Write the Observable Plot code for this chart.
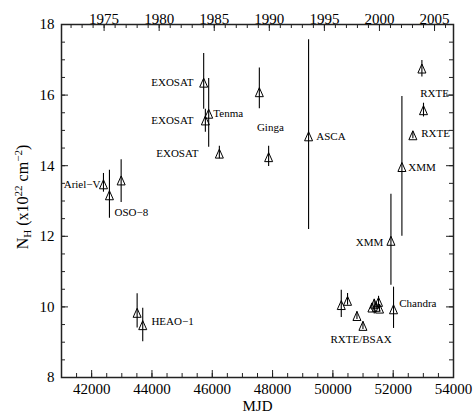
<!DOCTYPE html>
<html><head><meta charset="utf-8">
<script src="https://cdn.jsdelivr.net/npm/d3@7"></script>
<script src="https://cdn.jsdelivr.net/npm/@observablehq/plot@0.6"></script>
<style>body{margin:0;background:#fff} svg{display:block}</style>
</head><body><div id="chart"></div>
<script>
// Observations: MJD, N_H and error range (x10^22 cm^-2)
const mjd    = [42392, 42590, 42978, 43508, 43694, 45715, 45771, 45881, 46235, 47561, 47869, 49194,
                50278, 50486, 50798, 50997, 51295, 51371, 51437, 51514, 51547, 51925, 52011, 52289, 52653, 52952, 53005];
const nh     = [13.47, 13.16, 13.58, 9.83, 9.48, 16.35, 15.28, 15.47, 14.34, 16.08, 14.24, 14.83,
                10.05, 10.17, 9.74, 9.46, 9.98, 10.09, 10.00, 10.14, 9.95, 11.87, 9.93, 13.96, 14.86, 16.75, 15.57];
const nhLow  = [13.25, 12.51, 12.96, 9.40, 9.01, 15.60, 14.95, 14.52, 14.20, 15.61, 13.98, 12.19,
                9.70, 10.05, 9.64, 9.36, 9.90, 9.80, 9.92, 10.02, 9.87, 10.61, 9.39, 12.00, 14.76, 16.51, 15.38];
const nhHigh = [13.78, 13.87, 14.17, 10.37, 9.96, 17.18, 15.60, 16.47, 14.55, 16.77, 14.55, 17.57,
                10.47, 10.38, 9.86, 9.58, 10.10, 10.22, 10.10, 10.30, 10.05, 13.19, 10.56, 15.96, 14.96, 16.98, 15.77];

// Mission labels
const labelText   = ["Ariel−V", "OSO−8", "HEAO−1", "EXOSAT", "EXOSAT", "EXOSAT", "Tenma", "Ginga", "ASCA",
                     "XMM", "RXTE", "RXTE", "XMM", "Chandra", "RXTE/BSAX"];
const labelMjd    = [42292, 42756, 43982, 45374, 45374, 45540, 46036, 47925, 49450,
                     52500, 52896, 52929, 51669, 52200, 50934];
const labelNh     = [13.47, 12.68, 9.59, 16.36, 15.28, 14.35, 15.48, 15.08, 14.83,
                     13.96, 16.05, 14.92, 11.83, 10.10, 9.08];
const labelAnchor = ["end", "start", "start", "end", "end", "end", "start", "middle", "start",
                     "start", "start", "start", "end", "start", "middle"];

// Axis ticks
const xMajor = [42000, 44000, 46000, 48000, 50000, 52000, 54000];
const xMinor = d3.range(41000, 54001, 500);
const yMajor = [8, 10, 12, 14, 16, 18];
const yMinor = d3.range(8, 18.01, 0.5);
const topYearsMajor = [1975, 1980, 1985, 1990, 1995, 2000, 2005];
const topYearsAll = d3.range(1972, 2007);

const mjdOfYear = y => (Date.UTC(y, 0, 1) - Date.UTC(1858, 10, 17)) / 864e5;

const W = 474, H = 419, mL = 61, mR = 21, mT = 24, mB = 42;
const iw = W - mL - mR, ih = H - mT - mB;

const idx = d3.range(mjd.length);
const lidx = d3.range(labelText.length);

const tri = {draw(ctx) { ctx.moveTo(0, -4.6); ctx.lineTo(4, 4.4); ctx.lineTo(-4, 4.4); ctx.closePath(); }};

const labelMark = anchor => Plot.text(lidx.filter(i => labelAnchor[i] === anchor), {
  x: i => labelMjd[i], y: i => labelNh[i], text: i => labelText[i],
  textAnchor: anchor, fontSize: 11, fill: "black"
});

const chart = Plot.plot({
  width: W, height: H,
  marginLeft: mL, marginRight: mR, marginTop: mT, marginBottom: mB,
  x: {domain: [41000, 54000], axis: null},
  y: {domain: [8, 18], axis: null},
  style: {fontFamily: "'Liberation Serif', 'Times New Roman', serif", fontSize: "15px", background: "white", color: "black"},
  marks: [
    // ticks (inward)
    Plot.tickX(xMinor, {x: d => d, insetTop: ih - 4, stroke: "#222"}),
    Plot.tickX(xMajor, {x: d => d, insetTop: ih - 7, stroke: "#222"}),
    Plot.tickX(topYearsAll, {x: mjdOfYear, insetBottom: ih - 4, stroke: "#222"}),
    Plot.tickX(topYearsMajor, {x: mjdOfYear, insetBottom: ih - 7, stroke: "#222"}),
    Plot.tickY(yMinor, {y: d => d, insetRight: iw - 4, stroke: "#222"}),
    Plot.tickY(yMajor, {y: d => d, insetRight: iw - 7, stroke: "#222"}),
    Plot.tickY(yMinor, {y: d => d, insetLeft: iw - 4, stroke: "#222"}),
    Plot.tickY(yMajor, {y: d => d, insetLeft: iw - 7, stroke: "#222"}),
    Plot.frame({stroke: "#222", strokeWidth: 1.5}),
    // tick labels
    Plot.text(xMajor, {x: d => d, frameAnchor: "bottom", dy: 16, text: d => String(d), fontSize: 15}),
    Plot.text(yMajor, {y: d => d, frameAnchor: "left", textAnchor: "end", dx: -7, text: d => String(d), fontSize: 15}),
    Plot.text(topYearsMajor, {x: mjdOfYear, frameAnchor: "top", dy: -11, text: d => String(d), fontSize: 15}),
    Plot.text(["MJD"], {frameAnchor: "bottom", dy: 33, text: d => d, fontSize: 15}),
    // data
    Plot.ruleX(idx, {x: i => mjd[i], y1: i => nhLow[i], y2: i => nhHigh[i], stroke: "black", strokeWidth: 1.1}),
    Plot.dot(idx, {x: i => mjd[i], y: i => nh[i], symbol: tri, stroke: "black", fill: "none", strokeWidth: 1}),
    labelMark("start"), labelMark("end"), labelMark("middle")
  ]
});

// y-axis title with sub/superscripts
const svg = d3.select(chart);
const t = svg.append("text")
  .attr("transform", "translate(28,197) rotate(-90)")
  .attr("text-anchor", "middle")
  .attr("font-size", 16)
  .attr("fill", "black");
t.append("tspan").text("N");
t.append("tspan").attr("dy", 3).attr("font-size", 11).text("H");
t.append("tspan").attr("dy", -3).text(" (x10");
t.append("tspan").attr("dy", -6).attr("font-size", 11).text("22");
t.append("tspan").attr("dy", 6).text(" cm");
t.append("tspan").attr("dy", -6).attr("font-size", 11).text("−2");
t.append("tspan").attr("dy", 6).text(")");

document.getElementById("chart").appendChild(chart);
</script>
</body></html>
